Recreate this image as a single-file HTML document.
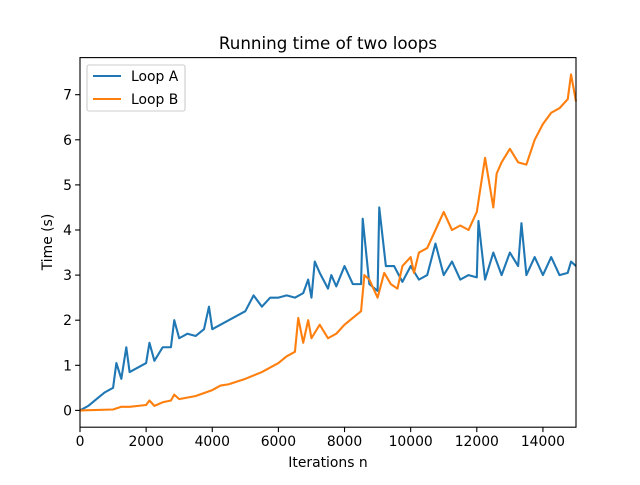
<!DOCTYPE html>
<html><head><meta charset="utf-8"><style>
body{margin:0;background:#fff;font-family:"Liberation Sans","DejaVu Sans",sans-serif;}
svg text{font-family:"DejaVu Sans","Liberation Sans",sans-serif;}
</style></head><body>
<svg id="c" width="640" height="480" xmlns="http://www.w3.org/2000/svg"></svg>
<script>
const nA=[0,250,500,750,1000,1100,1250,1400,1500,1750,2000,2100,2250,2500,2750,2850,3000,3250,3500,3750,3900,4000,4250,4500,4750,5000,5250,5500,5750,6000,6250,6500,6750,6900,7000,7100,7250,7500,7600,7750,8000,8250,8500,8550,8750,9000,9050,9250,9500,9750,10000,10250,10500,10750,11000,11250,11500,11750,12000,12050,12250,12500,12750,13000,13250,13350,13500,13750,14000,14250,14500,14750,14850,15000];
const loopA=[0,0.1,0.25,0.4,0.5,1.05,0.7,1.4,0.85,0.95,1.05,1.5,1.1,1.4,1.4,2.0,1.6,1.7,1.65,1.8,2.3,1.8,1.9,2.0,2.1,2.2,2.55,2.3,2.5,2.5,2.55,2.5,2.6,2.9,2.5,3.3,3.05,2.7,3.0,2.75,3.2,2.8,2.8,4.25,2.8,2.65,4.5,3.2,3.2,2.85,3.2,2.9,3.0,3.7,3.0,3.3,2.9,3.0,2.95,4.2,2.9,3.5,3.0,3.5,3.2,4.15,3.0,3.4,3.0,3.4,3.0,3.05,3.3,3.2];
const nB=[0,1000,1250,1500,2000,2100,2250,2500,2750,2850,3000,3500,4000,4250,4500,5000,5500,6000,6250,6500,6600,6750,6900,7000,7250,7500,7750,8000,8250,8500,8600,8750,9000,9200,9400,9600,9750,10000,10100,10250,10500,10750,11000,11250,11500,11750,12000,12250,12500,12600,12750,13000,13250,13500,13750,14000,14250,14500,14750,14850,15000];
const loopB=[0,0.02,0.08,0.08,0.12,0.22,0.1,0.18,0.22,0.35,0.25,0.32,0.45,0.55,0.58,0.7,0.85,1.05,1.2,1.3,2.05,1.5,2.0,1.6,1.9,1.6,1.7,1.9,2.05,2.2,3.0,2.9,2.5,3.05,2.8,2.7,3.2,3.4,3.05,3.5,3.6,4.0,4.4,4.0,4.1,4.0,4.4,5.6,4.5,5.25,5.5,5.8,5.5,5.45,6.0,6.35,6.6,6.7,6.9,7.45,6.85];
const xTicks=[0,2000,4000,6000,8000,10000,12000,14000];
const yTicks=[0,1,2,3,4,5,6,7];
const L=80,R=576,T=57.6,B=427.2;
const X=v=>L+(v-0)/(15000-0)*(R-L);
const Y=v=>B-(v-(-0.3725))/(7.8225+0.3725)*(B-T);
const svg=document.getElementById('c');
const NS='http://www.w3.org/2000/svg';
function mk(t,a,p){const e=document.createElementNS(NS,t);for(const k in a)e.setAttribute(k,a[k]);(p||svg).appendChild(e);return e;}
function line(ns,vs,color,name){
  const d=ns.map((n,i)=>(i?'L':'M')+X(n).toFixed(2)+','+Y(vs[i]).toFixed(2)).join('');
  const p=mk('path',{d:d,fill:'none',stroke:color,'stroke-width':2.1,'stroke-linejoin':'round'});
  
  
}
line(nA,loopA,'#1f77b4','loop-a-line');
line(nB,loopB,'#ff7f0e','loop-b-line');
const frame=mk('rect',{x:L,y:T,width:R-L,height:B-T,fill:'none',stroke:'#000','stroke-width':1.1});


xTicks.forEach(v=>{
  mk('line',{x1:X(v),x2:X(v),y1:B,y2:B+4.9,stroke:'#000','stroke-width':1.1});
  const t=mk('text',{x:X(v),y:B+19,'text-anchor':'middle','font-size':13.9,fill:'#000'});t.textContent=v;
  
  
});
yTicks.forEach(v=>{
  mk('line',{x1:L-4.9,x2:L,y1:Y(v),y2:Y(v),stroke:'#000','stroke-width':1.1});
  const t=mk('text',{x:L-8,y:Y(v)+5,'text-anchor':'end','font-size':13.9,fill:'#000'});t.textContent=v;
  
  
});
</script>
<svg style="position:absolute;left:0;top:0" width="640" height="480">
<text x="328" y="49" text-anchor="middle" font-size="16.7">Running time of two loops</text>
<text x="328" y="467" text-anchor="middle" font-size="13.9">Iterations n</text>
<text x="52" y="242" text-anchor="middle" font-size="13.9" transform="rotate(-90 52 242)">Time (s)</text>
<g>
<rect x="87" y="65" width="98" height="46" rx="2" fill="#fff" fill-opacity="0.8" stroke="#ccc" stroke-width="1.1"/>
<line x1="93" x2="121" y1="76" y2="76" stroke="#1f77b4" stroke-width="2.1"/>
<text x="131" y="81" font-size="13.9">Loop A</text>
<line x1="93" x2="121" y1="99" y2="99" stroke="#ff7f0e" stroke-width="2.1"/>
<text x="131" y="104" font-size="13.9">Loop B</text>
</g>
</svg>
</body></html>
